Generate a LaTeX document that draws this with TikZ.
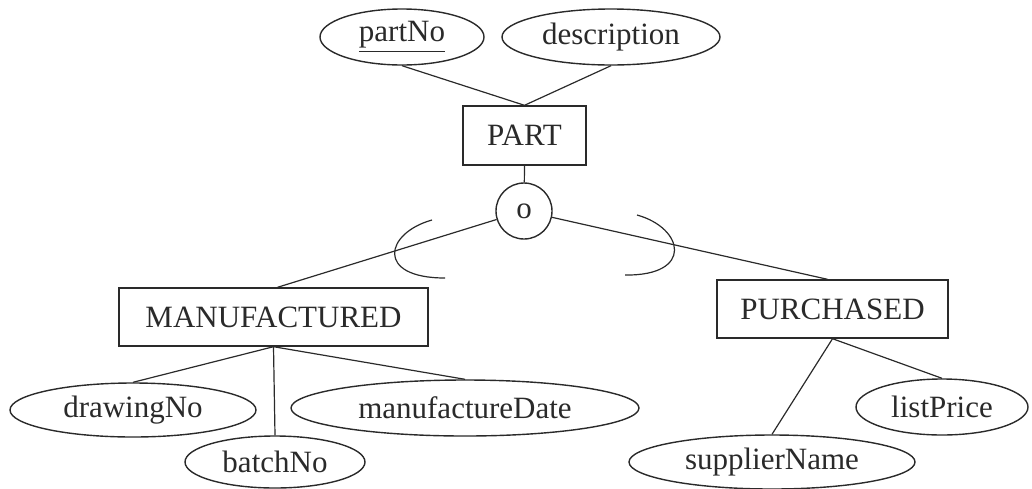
\documentclass[tikz,border=0pt]{standalone}
\usepackage{fontspec}
\setmainfont{Liberation Serif}
\usetikzlibrary{shapes.geometric}
\definecolor{ink}{HTML}{2A2A2A}
\begin{document}
\begin{tikzpicture}[x=0.5pt,y=-0.5pt,
  every node/.style={font=\fontsize{15.5}{18}\selectfont, text=ink},
  attr/.style={draw=ink, line width=0.7pt, ellipse, inner sep=0pt},
  ent/.style={draw=ink, line width=0.7pt, rectangle, inner sep=0pt},
  link/.style={draw=ink, line width=0.6pt}]
\useasboundingbox (0,0) rectangle (1032,488);
% attributes of PART
\node[attr, minimum width=82pt, minimum height=28pt] (partNo) at (402,37) {\underline{partNo}};
\node[attr, minimum width=109pt, minimum height=28pt] (desc) at (611,37) {description};
% entities
\node[ent, minimum width=61.5pt, minimum height=29.5pt] (part) at (524.5,135.5) {PART};
\node[draw=ink, line width=0.7pt, circle, inner sep=0pt, minimum size=28pt] (circ) at (524,211) {o};
\node[ent, minimum width=154.5pt, minimum height=29pt] (man) at (273.5,317) {MANUFACTURED};
\node[ent, minimum width=115.5pt, minimum height=29pt] (pur) at (832.5,309) {PURCHASED};
% attributes of subclasses
\node[attr, minimum width=123pt, minimum height=27pt] (drawNo) at (133,410) {drawingNo};
\node[attr, minimum width=90pt, minimum height=26pt] (batchNo) at (275,462) {batchNo};
\node[attr, minimum width=174pt, minimum height=28pt] (mDate) at (465,408) {manufactureDate};
\node[attr, minimum width=86pt, minimum height=28pt] (lPrice) at (942,407) {listPrice};
\node[attr, minimum width=143pt, minimum height=27pt] (sName) at (772,462) {supplierName};
% connectors
\draw[link] (partNo.south) -- (part.north);
\draw[link] (desc.south) -- (part.north);
\draw[link] (part.south) -- (circ);
\draw[link] (circ) -- ([xshift=2pt]man.north);
\draw[link] (circ) -- ([xshift=-2.5pt]pur.north);
\draw[link] (man.south) -- (drawNo.north);
\draw[link] (man.south) -- (batchNo.north);
\draw[link] (man.south) -- (mDate.north);
\draw[link] (pur.south) -- (sName.north);
\draw[link] (pur.south) -- (lPrice.north);
% subset arcs
\coordinate (la) at (432,220);
\coordinate (lb) at (445,278);
\coordinate (ra) at (637,215);
\coordinate (rb) at (625,275);
\draw[link] (la) .. controls (385,233) and (375,278) .. (lb);
\draw[link] (ra) .. controls (684,228) and (694,276) .. (rb);
\end{tikzpicture}
\end{document}
